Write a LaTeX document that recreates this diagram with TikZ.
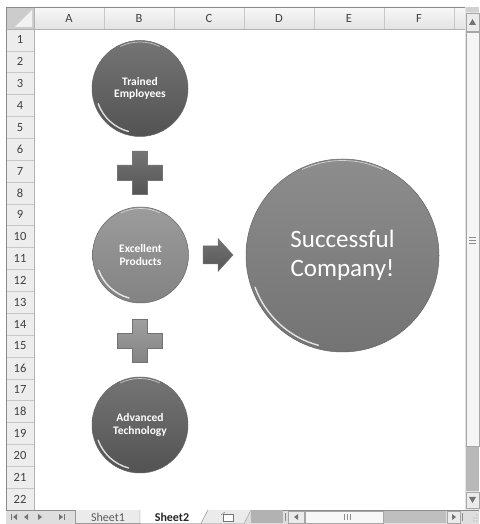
\documentclass[tikz,border=0pt]{standalone}
\usepackage{fontspec}
\setmainfont{Carlito}
\usetikzlibrary{positioning,calc}

\definecolor{BallDark}{HTML}{5C5C5C}
\definecolor{BallMid}{HTML}{8E8E8E}
\definecolor{BallBig}{HTML}{808080}

\begin{document}
\begin{tikzpicture}[
  x=1pt,y=1pt,
  hd/.style={font=\fontsize{12.5}{12.5}\selectfont,text=black!75,inner sep=0pt},
  sep/.style={draw=black!22,line width=0.5pt},
  ball/.style={circle,minimum size=#1,inner sep=0pt,draw=black!60,line width=0.5pt,
    align=center,text=white},
  small/.style={font=\bfseries\fontsize{11.5}{12.5}\selectfont},
  shine/.style={white,line width=1.4pt,opacity=0.8,line cap=round},
  rim/.style={white,line width=0.7pt,opacity=0.6,line cap=round},
  sym/.style={draw=black!55,line width=0.5pt,line join=miter},
  btn/.style={fill=black!8,draw=black!35,line width=0.4pt},
  tri/.style={fill=black!55},
]
\useasboundingbox (0,0) rectangle (479,524);

% sheet frame, headers and row numbers
\fill[white] (34,14) rectangle (465,495);
\shade[top color=black!3,bottom color=black!11] (34,495) rectangle (465,517);
\fill[black!7] (6,14) rectangle (34,495);
\fill[black!20] (6,495) rectangle (34,517);
\fill[black!5] (32,497) -- (32,514) -- (15,497) -- cycle;
\foreach \c [count=\i from 0] in {A,B,C,D,E,F}
  \node[hd] (col\c) at ({69+70*\i},506) {\c};
\foreach \i in {0,...,6}
  \draw[sep] ({104+70*\i},495) -- ({104+70*\i},517);
\foreach \r in {1,...,22}{
  \node[hd] (row\r) at (20,{495-21.86*(\r-0.5)}) {\r};
  \draw[sep] (6,{495-21.86*\r}) -- (34,{495-21.86*\r});
}
\draw[black!30] (34,14) -- (34,517);
\draw[black!30] (6,495) -- (465,495);
\draw[black!45] (6,14) -- (6,517) -- (479,517);
\draw[black!40] (465,14) -- (465,517);

% vertical scroll bar
\fill[black!10] (465.3,14) rectangle (479,516.7);
\fill[black!18] (466,512) rectangle (479,516.5);
\path[btn] (466,493) rectangle (479,511);
\fill[tri] (469,499) -- (476,499) -- (472.5,505) -- cycle;
\path[btn,fill=black!4] (466,78) rectangle (479,492);
\foreach \g in {281,284,287} \draw[black!45] (469,\g) -- (476,\g);
\fill[black!28] (466,33) rectangle (479,77);
\path[btn] (466,16) rectangle (479,32);
\fill[tri] (469,27) -- (476,27) -- (472.5,21) -- cycle;

% sheet tabs and horizontal scroll bar
\fill[black!13] (6,0) rectangle (479,14);
\draw[black!45] (6,14) -- (479,14);
\fill[tri] (11,4) rectangle (12,10);  \fill[tri] (17,4) -- (17,10) -- (13,7) -- cycle;
\fill[tri] (28,4) -- (28,10) -- (24,7) -- cycle;
\fill[tri] (38,4) -- (38,10) -- (42,7) -- cycle;
\fill[tri] (59,4) -- (59,10) -- (63,7) -- cycle;  \fill[tri] (64,4) rectangle (65,10);
\draw[black!40,fill=black!8] (75,14) -- (75,0.5) -- (140,0.5) -- (140,14);
\node[font=\fontsize{12}{12}\selectfont,text=black!65,inner sep=0pt] (sheetA) at (108,7) {Sheet1};
\draw[black!50,fill=white] (140,14) -- (140,0.5) -- (201,0.5) -- (208,14);
\node[font=\bfseries\fontsize{12}{12}\selectfont,text=black!85,inner sep=0pt] (sheetB) at (172,7) {Sheet2};
\draw[black!40,fill=black!8] (208,14) -- (201,0.5) -- (244,0.5) -- (251,14);
\draw[black!55,fill=white] (223,3) rectangle (233,10);
\draw[black!55] (221,9) -- (225,12);
\fill[black!30] (251,0.5) rectangle (283,13.5);
\draw[black!45] (285,3) -- (285,11);
\path[btn] (288,1) rectangle (304,13);
\fill[tri] (298,4) -- (298,10) -- (294,7) -- cycle;
\path[btn,fill=black!3] (305,1) rectangle (383,13);
\foreach \g in {344,347,350} \draw[black!45] (\g,4) -- (\g,10);
\fill[black!25] (384,1) rectangle (446,13);
\path[btn] (447,1) rectangle (460,13);
\fill[tri] (452,4) -- (452,10) -- (456,7) -- cycle;
\draw[black!45] (462,3) -- (462,11);
\foreach \gx/\gy in {474/3,477/3,477/6,474/6,477/9}
  \fill[black!40] (\gx,\gy) circle (0.6);

% diagram: three inputs, plus signs, arrow, result
\node[ball=96,top color=BallDark!85!white,bottom color=BallDark!90!black,small] (te)
  at (140,435.5) {Trained\\Employees};
\node[ball=96,top color=BallMid!88!white,bottom color=BallMid!92!black,small] (ep)
  at (140.5,269) {Excellent\\Products};
\node[ball=96,top color=BallDark!85!white,bottom color=BallDark!90!black,small] (at)
  at (140,99) {Advanced\\Technology};
\node[ball=193,top color=BallBig!90!white,bottom color=BallBig!90!black,
  font=\fontsize{25}{29}\selectfont] (sc) at (342.5,268.5) {Successful\\Company!};
\foreach \n/\r in {te/48,ep/48,at/48,sc/96.5}{
  \draw[shine] ($(\n)+(200:\r-3.5)$) arc[start angle=200,end angle=255,radius=\r-3.5];
  \draw[rim] ($(\n)+(65:\r-1.5)$) arc[start angle=65,end angle=115,radius=\r-1.5];
}
\coordinate (p1) at (139.5,351.5);
\coordinate (p2) at (140,183);
\foreach \p/\col in {p1/BallDark,p2/BallMid}
  \path[sym,top color=\col!85!white,bottom color=\col!92!black,shift={(\p)}]
    (-7.5,21.5) -- (7.5,21.5) -- (7.5,7.5) -- (22.5,7.5) -- (22.5,-7.5) -- (7.5,-7.5)
    -- (7.5,-21.5) -- (-7.5,-21.5) -- (-7.5,-7.5) -- (-22.5,-7.5) -- (-22.5,7.5)
    -- (-7.5,7.5) -- cycle;
\coordinate (arr) at (218,269);
\path[sym,top color=BallDark!85!white,bottom color=BallDark!92!black,shift={(arr)}]
  (-15,9) -- (0,9) -- (0,16.5) -- (15,0) -- (0,-16.5) -- (0,-9) -- (-15,-9) -- cycle;
\end{tikzpicture}
\end{document}
